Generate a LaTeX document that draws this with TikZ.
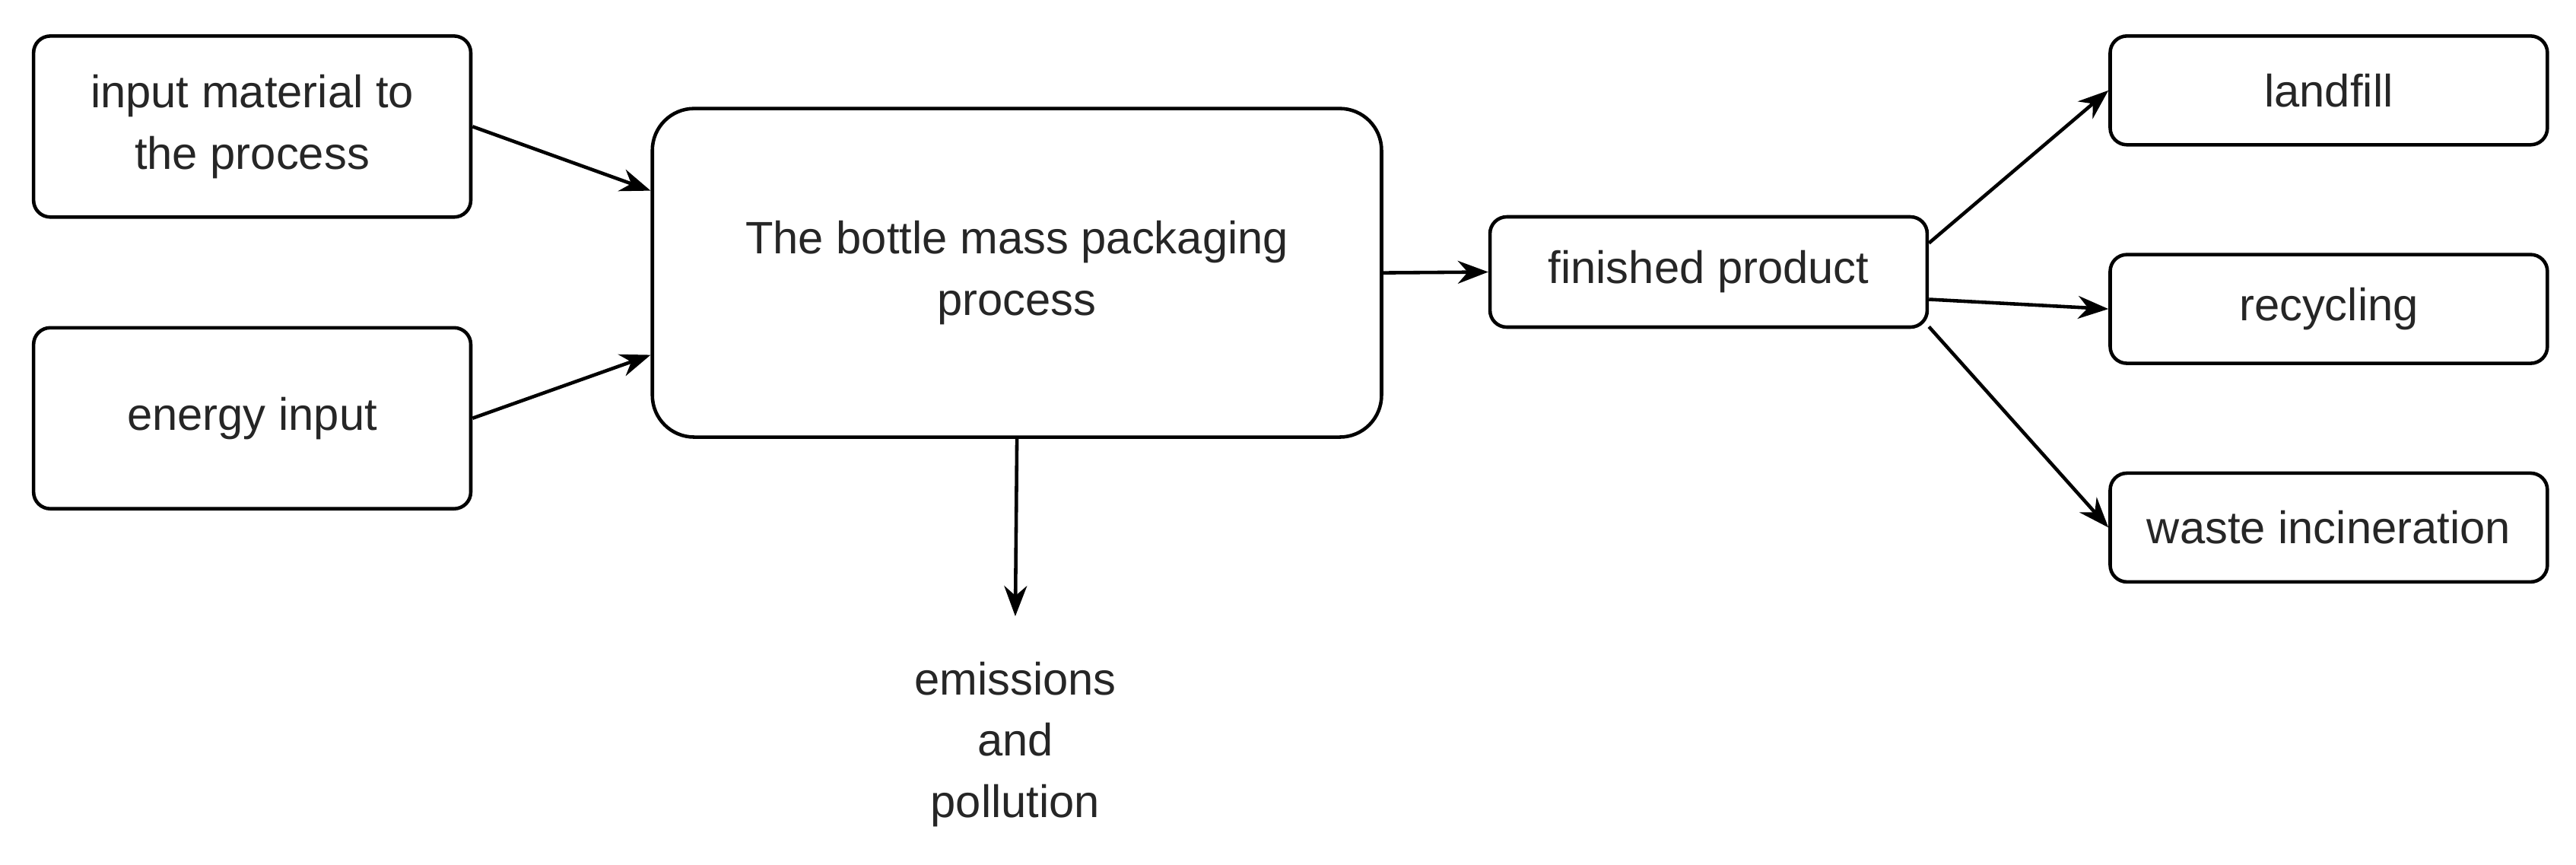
\documentclass[tikz,border=0pt]{standalone}
\usepackage{fontspec}
\setmainfont{Liberation Sans}
\usetikzlibrary{arrows.meta}
\begin{document}
\begin{tikzpicture}[x=0.0216cm,y=-0.0216cm,
  box/.style={draw,line width=1.3pt,rounded corners=0.22cm,align=center,inner sep=0pt,
    minimum width=5.75cm,font=\fontsize{17}{23}\selectfont,text=black!85},
  arr/.style={line width=1.3pt,-{Stealth[length=0.4cm,width=0.3cm]}}]
\useasboundingbox (0,0) rectangle (1568,526);
\node[box,minimum height=2.38cm] (in) at (153.5,77) {input material to\\the process};
\node[box,minimum height=2.38cm] (en) at (153.5,254.5) {energy input};
\node[box,minimum width=9.59cm,minimum height=4.32cm,rounded corners=0.55cm] (pr) at (619,166) {The bottle mass packaging\\process};
\node[box,minimum height=1.45cm] (fp) at (1040,165.5) {finished product};
\node[box,minimum height=1.43cm] (lf) at (1417.5,55) {landfill};
\node[box,minimum height=1.43cm] (rc) at (1417.5,188) {recycling};
\node[box,minimum height=1.43cm] (wi) at (1417.5,321) {waste incineration};
\node[align=center,font=\fontsize{17}{23}\selectfont,text=black!85] (em) at (618,453) {emissions\\and\\pollution};
\coordinate (emtop) at (618,375);
\draw[arr] (in.east) -- ([yshift=1.08cm]pr.west);
\draw[arr] (en.east) -- ([yshift=-1.08cm]pr.west);
\draw[arr] (pr.east) -- (fp.west);
\draw[arr] (pr.south) -- (emtop);
\draw[arr] ([yshift=0.38cm]fp.east) -- ([yshift=0cm]lf.west);
\draw[arr] ([yshift=-0.36cm]fp.east) -- (rc.west);
\draw[arr] ([yshift=-0.72cm]fp.east) -- (wi.west);
\end{tikzpicture}
\end{document}
